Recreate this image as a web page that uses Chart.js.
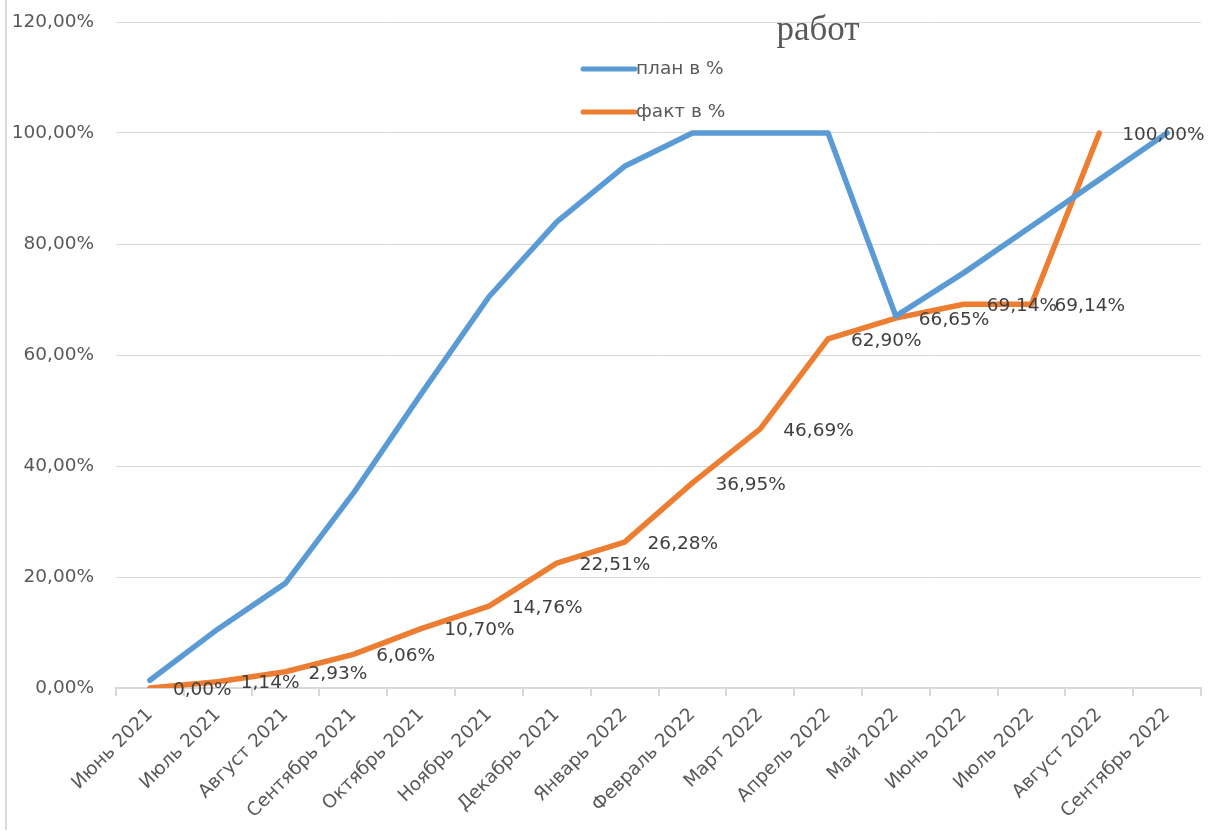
<!DOCTYPE html>
<html><head><meta charset="utf-8">
<script src="https://cdn.jsdelivr.net/npm/chart.js@4.4.1/dist/chart.umd.min.js"></script>
<style>html,body{margin:0;padding:0;background:#fff}canvas{display:block}</style>
</head><body>
<canvas id="c" width="1210" height="831"></canvas>
<script>
const categories = ['Июнь 2021','Июль 2021','Август 2021','Сентябрь 2021','Октябрь 2021','Ноябрь 2021','Декабрь 2021','Январь 2022','Февраль 2022','Март 2022','Апрель 2022','Май 2022','Июнь 2022','Июль 2022','Август 2022','Сентябрь 2022'];
const planValues = [1.4, 10.6, 18.9, 35.1, 53.0, 70.5, 84.0, 94.0, 100, 100, 100, 67.0, 74.8, 83.2, 91.6, 100];
const factValues = [0.00, 1.14, 2.93, 6.06, 10.70, 14.76, 22.51, 26.28, 36.95, 46.69, 62.90, 66.65, 69.14, 69.14, 100.00, null];
const yTickValues = [0, 20, 40, 60, 80, 100, 120];
const seriesNames = ['план в %', 'факт в %'];
const titleText = 'работ';

const fmt = v => v.toFixed(2).replace('.', ',') + '%';
const FONT = '"DejaVu Sans", sans-serif';

const borderPlugin = {
  id: 'borderPlugin',
  beforeDraw(chart) {
    const ctx = chart.ctx;
    ctx.save();
    ctx.fillStyle = '#fff';
    ctx.fillRect(0, 0, chart.width, chart.height);
    ctx.strokeStyle = '#D9D9D9';
    ctx.lineWidth = 2;
    ctx.beginPath();
    ctx.moveTo(6, 0);
    ctx.lineTo(6, chart.height - 1);
    ctx.stroke();
    ctx.restore();
  }
};

const titlePlugin = {
  id: 'titlePlugin',
  afterDraw(chart, args, opts) {
    const ctx = chart.ctx;
    ctx.save();
    ctx.font = '35px "Liberation Serif", serif';
    ctx.fillStyle = '#595959';
    ctx.textAlign = 'center';
    ctx.textBaseline = 'alphabetic';
    ctx.fillText(opts.text, opts.x, opts.y);
    ctx.restore();
  }
};

const legendPlugin = {
  id: 'legendPlugin',
  afterDraw(chart, args, opts) {
    const ctx = chart.ctx;
    ctx.save();
    chart.data.datasets.forEach((ds, i) => {
      const y = opts.y + i * opts.gap;
      ctx.strokeStyle = ds.borderColor;
      ctx.lineWidth = 5;
      ctx.lineCap = 'round';
      ctx.beginPath();
      ctx.moveTo(opts.x, y);
      ctx.lineTo(opts.x + opts.len, y);
      ctx.stroke();
      ctx.font = '18.5px ' + FONT;
      ctx.fillStyle = '#595959';
      ctx.textAlign = 'left';
      ctx.textBaseline = 'middle';
      ctx.fillText(ds.label, opts.x + opts.len + 1, y);
    });
    ctx.restore();
  }
};

const labelPlugin = {
  id: 'labelPlugin',
  afterDatasetsDraw(chart, args, opts) {
    const ctx = chart.ctx;
    const meta = chart.getDatasetMeta(opts.dataset);
    const data = chart.data.datasets[opts.dataset].data;
    ctx.save();
    ctx.font = '18.5px ' + FONT;
    ctx.fillStyle = '#404040';
    ctx.textAlign = 'left';
    ctx.textBaseline = 'middle';
    meta.data.forEach((pt, i) => {
      const v = data[i];
      if (v === null || v === undefined) return;
      ctx.fillText(fmt(v), pt.x + opts.dx, pt.y + opts.dy);
    });
    ctx.restore();
  }
};

new Chart(document.getElementById('c'), {
  type: 'line',
  data: {
    labels: categories,
    datasets: [
      { label: seriesNames[0], data: planValues, borderColor: '#5B9BD5', backgroundColor: '#5B9BD5', borderWidth: 5.5, pointRadius: 0, tension: 0, borderCapStyle: 'round', borderJoinStyle: 'round', spanGaps: false },
      { label: seriesNames[1], data: factValues, borderColor: '#ED7D31', backgroundColor: '#ED7D31', borderWidth: 5.5, pointRadius: 0, tension: 0, borderCapStyle: 'round', borderJoinStyle: 'round', spanGaps: false }
    ]
  },
  options: {
    responsive: false,
    animation: false,
    devicePixelRatio: 1,
    layout: { padding: { top: 22, right: 9, left: 0, bottom: 0 } },
    scales: {
      x: {
        offset: true,
        grid: { offset: true, drawOnChartArea: false, drawTicks: true, tickLength: 8, color: '#D9D9D9', lineWidth: 2 },
        border: { color: '#D9D9D9', width: 2 },
        ticks: { autoSkip: false, maxRotation: 45, minRotation: 45, padding: 8, color: '#595959', font: { family: FONT, size: 18.5 } },
        afterFit(s) { s.height = 831 - 688; }
      },
      y: {
        min: 0, max: 120,
        afterBuildTicks(s) { s.ticks = yTickValues.map(v => ({ value: v })); },
        grid: { drawTicks: false, color: '#D9D9D9', lineWidth: 1 },
        border: { display: false },
        ticks: { padding: 22, color: '#595959', font: { family: FONT, size: 18.5 }, callback: v => fmt(v) },
        afterFit(s) { s.width = 116; s.paddingTop = 0; s.paddingBottom = 0; }
      }
    },
    plugins: {
      legend: { display: false },
      tooltip: { enabled: false },
      titlePlugin: { text: titleText, x: 818, y: 40 },
      legendPlugin: { x: 583, y: 69, gap: 43, len: 52 },
      labelPlugin: { dataset: 1, dx: 23, dy: 2 }
    }
  },
  plugins: [borderPlugin, titlePlugin, legendPlugin, labelPlugin]
});
</script>
</body></html>
